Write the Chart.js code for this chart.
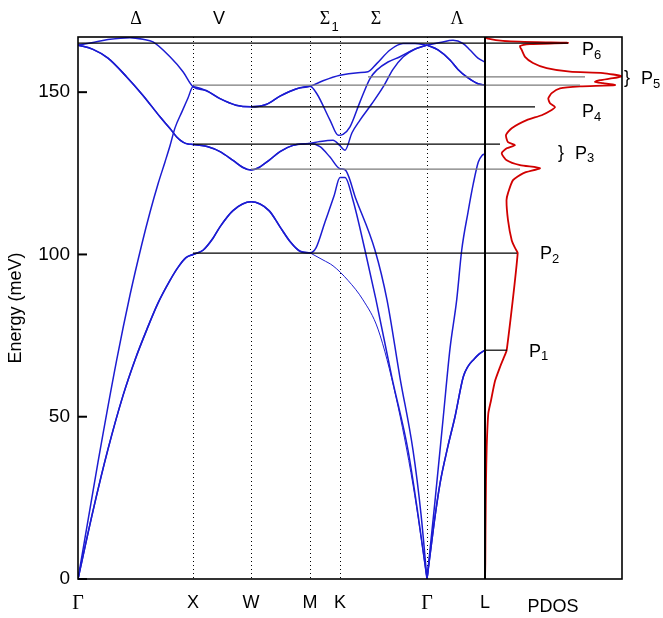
<!DOCTYPE html>
<html><head><meta charset="utf-8">
<script src="https://cdn.jsdelivr.net/npm/chart.js@4/dist/chart.umd.min.js"></script>
<style>html,body{margin:0;padding:0;background:#fff}</style>
</head><body>
<canvas id="c" width="663" height="618"></canvas>
<script>
// ---- axes / labels ----
const kPos = [0, 115, 173, 232, 262, 349, 407];
const kLabels = ['Γ', 'X', 'W', 'M', 'K', 'Γ', 'L'];
const xMax = 544;
const yTicks = [0, 50, 100, 150];
const yMax = 167;
const dirLabels = ['Δ', 'V', 'Σ', 'Σ', 'Λ'];
const dirSubs = ['', '', '1', '', ''];
const dirPos = [58, 141, 247, 298, 379];

// ---- dispersion pieces [q, meV] ----
const gxTA = [[0,0],[15,21],[30,40],[45,56.5],[57,67.5],[69,77],[80,85],[92,92],[100,96],[108,99],[115,100]];
const xmTA = [[125,101.3],[135,105],[142,108.5],[155,113.5],[173,116.2],[191,113.5],[202,108.5],[212,104],[222,101],[232,100.5]];
const mgTAthin = [[232,100.5],[245,98.3],[255,96.5],[270,92],[285,86],[300,77],[318,56],[335,29],[349,0]];
const mgTA2 = [[238,102],[247,110],[256,118],[262,123.7],[267,123.7],[275,116.7],[287,101.3],[298,86],[314,62],[330,39.7],[340,20],[349,0]];
const gxLA = [[0,0],[20,36],[38.7,67.5],[52,87.5],[63.7,103],[72,113],[80.3,122],[87,128.5],[92,133.5],[97,139],[104,144],[110,148.2],[115,151.7]];
const gxLO = [[0,164.5],[15,165.3],[30,166.2],[52,166.8],[65,166.3],[75,165.5],[92,160.9],[105,156.3],[115,151.7]];
const xmUp = [[128,150.5],[142,148],[158,146],[173,145.5],[188,146.2],[202,148.8],[218,151],[232,151.8]];
const mgA = [[245,153.5],[262,155.2],[280,156],[290,156.3],[298.7,158.8],[312,163],[325,165],[337,165],[349,164.5]];
const mgB = [[238.7,149.6],[252,141.4],[260.3,136.7],[265,137],[272,139.3],[282,147],[292,154.2],[298.7,156.8],[310,159.3],[322,160.9],[335,163],[349,164.5]];
const gxTO = [[0,164.5],[15,163.2],[30,160.5],[48.7,154.7],[65,149],[82,142.4],[92,138.8],[98.7,136.2],[105,134.6],[110,134],[115,133.9]];
const xmTO = [[130,133.2],[142,131.7],[155,129],[165,126.8],[173,126],[181,126.8],[191,129],[202,131.7],[215,133.6],[232,134.2]];
const mgD2 = [[242,133.2],[252,130],[262,126.4],[267,126.1],[278,117],[297,101.3],[309,86],[322,62],[335,39.7],[343,20],[349,0]];
const mgC = [[242,134.8],[255,135.2],[262,133.5],[267,132.1],[274,137.5],[282,141.4],[294,146.5],[305.3,151.7],[315,157],[325.3,160.9],[337,163.3],[349,164.5]];
const glTA = [[349,0],[356,17],[362,29.4],[370,41],[377,50],[385.3,62.3],[390,65.5],[395.3,67.5],[401,69.3],[407,70.5]];
const glLA = [[349,0],[357,24],[365.3,50],[372,71],[378.7,86],[383.7,101.3],[390,113],[395.3,121.8],[400.3,128.5],[404,130.5],[407,131]];
const glU1 = [[349,164.5],[362,165.3],[375,166],[385,165],[392,163],[400,160.5],[407,159.3]];
const glU2 = [[349,164.5],[360,163],[372,159.9],[380,157],[388.7,154.7],[400,152.6],[407,152.2]];

// ---- PDOS ----
const pdosE = [0,5,15,30,40.7,51,55,61,65.3,68,70.5,100.4,102,104.4,110.6,116.7,118.9,122.9,125,126.6,127.5,129,131.2,132.7,133.7,134.6,136.8,138.9,141.4,142.9,144.5,145.4,146.6,148.1,149.7,151.2,151.8,152.2,152.8,153.2,153.7,154.3,154.9,155.9,156.3,157.4,159,160.9,163,164.2,164.8,165.2,165.4,165.8,166.5,167];
const pdosVal = [0,0.3,0.5,1,1.7,3.3,6,10,15,18.5,21.7,32.7,30,26.7,23,21.5,23,28,38,55,35,21.7,16.7,21.7,30,23,21,26.7,41.7,56.7,66.7,70,65,63.3,66.7,75,95,130,118,110,115,128,136.7,118,85,61.7,48,40,36.7,35,45,83,52,18,3,0];

// ---- peak marker lines ----
const refE = [165.1, 154.7, 152.2, 145.5, 134, 126.3, 100.4, 70.5];
const refFrom = [0, 290, 115, 173, 115, 173, 115, 407];
const refTo = [490, 507, 502, 457, 422, 442, 439, 429];
const refGray = [false, true, true, false, false, true, false, false];

// ---- peak labels ----
const peakNames = ['6', '5', '4', '3', '2', '1'];
const peakX = [504, 563, 504, 497, 462, 451];
const peakE = [163, 154, 143.8, 131, 100, 70];
const peakBrace = [false, true, false, true, false, false];

const pts = a => a.map(p => ({x: p[0], y: p[1]}));
const BLUE = '#1c1cd2', RED = '#d10000';
const branch = (arr, w) => ({data: pts(arr), borderColor: BLUE, borderWidth: w || 1.5, pointRadius: 0, cubicInterpolationMode: 'monotone', fill: false});

const datasets = [];
refE.forEach((e, i) => datasets.push({data: [{x: refFrom[i], y: e}, {x: refTo[i], y: e}], borderColor: refGray[i] ? '#7a7a7a' : '#000', borderWidth: 1.2, pointRadius: 0, tension: 0}));
datasets.push(branch(gxTA.concat(xmTA)));
datasets.push(branch(mgTAthin, 1));
datasets.push(branch(gxTA.concat(xmTA, mgTA2)));
datasets.push(branch(gxLA.concat(xmUp, mgB)));
datasets.push(branch(gxLO.concat(xmUp, mgA)));
datasets.push(branch(gxTO.concat(xmTO, mgD2)));
datasets.push(branch(gxTO.concat(xmTO, mgC)));
[glTA, glTA, glLA, glU1, glU2, glU2].forEach(a => datasets.push(branch(a)));
datasets.push({data: pdosE.map((e, i) => ({x: kPos[6] + pdosVal[i], y: e})), borderColor: RED, borderWidth: 1.8, pointRadius: 0, tension: 0.2});

const deco = {
  id: 'deco',
  beforeDatasetsDraw(chart) {
    const {ctx, chartArea: a, scales: {x}} = chart;
    ctx.save();
    ctx.strokeStyle = '#000'; ctx.lineWidth = 1; ctx.setLineDash([1, 3]);
    for (let i = 1; i < kPos.length - 1; i++) {
      const px = Math.round(x.getPixelForValue(kPos[i])) + 0.5;
      ctx.beginPath(); ctx.moveTo(px, a.top); ctx.lineTo(px, a.bottom); ctx.stroke();
    }
    ctx.restore();
  },
  afterDatasetsDraw(chart) {
    const {ctx, chartArea: a, scales: {x, y}} = chart;
    ctx.save();
    ctx.strokeStyle = '#000';
    ctx.lineWidth = 2;
    const lx = x.getPixelForValue(kPos[6]);
    ctx.beginPath(); ctx.moveTo(lx, a.top); ctx.lineTo(lx, a.bottom); ctx.stroke();
    ctx.lineWidth = 1.6;
    ctx.strokeRect(a.left, a.top, a.right - a.left, a.bottom - a.top);
    ctx.lineWidth = 2;
    yTicks.forEach(v => { const py = y.getPixelForValue(v); ctx.beginPath(); ctx.moveTo(a.left, py); ctx.lineTo(a.left + 9, py); ctx.stroke(); });
    ctx.fillStyle = '#000'; ctx.textAlign = 'center'; ctx.textBaseline = 'middle';
    dirLabels.forEach((t, i) => {
      const px = x.getPixelForValue(dirPos[i]);
      ctx.font = (t === 'V' ? '18px "Liberation Sans"' : '18px "Liberation Serif"');
      ctx.fillText(t, px, a.top - 18);
      if (dirSubs[i]) { ctx.font = '13px "Liberation Sans"'; ctx.fillText(dirSubs[i], px + 10, a.top - 10); }
    });
    ctx.textAlign = 'left';
    peakNames.forEach((n, i) => {
      const px = x.getPixelForValue(peakX[i]);
      const py = y.getPixelForValue(peakE[i]);
      if (peakBrace[i]) { ctx.font = '18px "Liberation Sans"'; ctx.fillText('}', px - 17, py - 1); }
      ctx.font = '18px "Liberation Sans"'; ctx.fillText('P', px, py);
      ctx.font = '13px "Liberation Sans"'; ctx.fillText(n, px + 12, py + 5);
    });
    ctx.textAlign = 'center';
    ctx.font = '18px "Liberation Sans"';
    ctx.fillText('PDOS', x.getPixelForValue(475), a.bottom + 28);
    ctx.restore();
  }
};

new Chart(document.getElementById('c'), {
  type: 'line',
  data: {datasets},
  options: {
    responsive: false, animation: false, devicePixelRatio: 1,
    layout: {padding: {top: 37, right: 41, left: 0, bottom: 0}},
    plugins: {legend: {display: false}, tooltip: {enabled: false}},
    scales: {
      x: {type: 'linear', min: 0, max: xMax,
        grid: {display: false, drawTicks: false}, border: {display: false},
        afterBuildTicks: s => { s.ticks = kPos.map(v => ({value: v})); },
        afterFit: s => { s.height = 39; },
        ticks: {autoSkip: false, maxRotation: 0, padding: 13, color: '#000',
          callback: (v, i) => kLabels[i],
          font: c => (kLabels[c.index] === 'Γ' ? {family: 'Liberation Serif', size: 20} : {family: 'Liberation Sans', size: 18})}
      },
      y: {type: 'linear', min: 0, max: yMax,
        grid: {display: false, drawTicks: false}, border: {display: false},
        afterBuildTicks: s => { s.ticks = yTicks.map(v => ({value: v})); },
        afterFit: s => { s.width = 78; },
        ticks: {padding: 8, color: '#000', font: {family: 'Liberation Sans', size: 19}},
        title: {display: true, text: 'Energy (meV)', color: '#000', font: {family: 'Liberation Sans', size: 18}, padding: {top: 5, bottom: 0}}
      }
    }
  },
  plugins: [deco]
});
</script>
</body></html>
